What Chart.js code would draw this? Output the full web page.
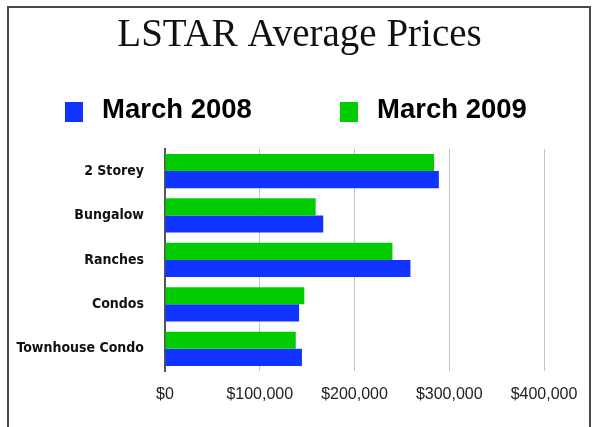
<!DOCTYPE html>
<html>
<head>
<meta charset="utf-8">
<script src="https://cdn.jsdelivr.net/npm/chart.js@4.4.0/dist/chart.umd.min.js"></script>
<style>
  html, body { margin: 0; padding: 0; background: #fff; overflow: hidden; }
  #wrap { position: relative; width: 599px; height: 427px; }
  #frame { position: absolute; left: 7px; top: 6px; width: 580px; height: 480px; border: 2px solid #4a4a4a; }
  #chart { position: absolute; left: 0; top: 0; }
</style>
</head>
<body>
<div id="wrap">
  <div id="frame"></div>
  <canvas id="chart" width="599" height="427"></canvas>
</div>
<script>
const categories = ["2 Storey", "Bungalow", "Ranches", "Condos", "Townhouse Condo"];
const march2008 = [289000, 167000, 259000, 141500, 144500];
const march2009 = [284000, 159000, 240000, 147000, 138000];
const xTicks = [0, 100000, 200000, 300000, 400000];
// axis runs past the last tick so the plot reaches the right edge
const xMax = 458000;

// legend drawn by hand so the two items sit wide apart like the original
const boxLegend = {
  id: "boxLegend",
  afterDraw(chart) {
    const ctx = chart.ctx;
    const items = [chart.data.datasets[1], chart.data.datasets[0]];
    const startX = [65, 340];
    ctx.save();
    ctx.font = "bold 27.5px 'Liberation Sans', Arial, sans-serif";
    ctx.textBaseline = "middle";
    ctx.textAlign = "left";
    items.forEach((ds, i) => {
      ctx.fillStyle = ds.backgroundColor;
      ctx.fillRect(startX[i], 102, 18, 20);
      ctx.fillStyle = "#000";
      ctx.fillText(ds.label, startX[i] + 37, 110);
    });
    ctx.restore();
  },
};

const el = document.getElementById("chart");

new Chart(el, {
  type: "bar",
  data: {
    labels: categories,
    datasets: [
      {
        label: "March 2009",
        data: march2009,
        backgroundColor: "#00cc00",
        borderWidth: 0,
        categoryPercentage: 0.77,
        barPercentage: 1.0,
      },
      {
        label: "March 2008",
        data: march2008,
        backgroundColor: "#1033ff",
        borderWidth: 0,
        categoryPercentage: 0.77,
        barPercentage: 1.0,
      },
    ],
  },
  options: {
    indexAxis: "y",
    responsive: false,
    animation: false,
    layout: {
      padding: { left: 0, right: 0, top: 0, bottom: 23 },
    },
    scales: {
      x: {
        min: 0,
        max: xMax,
        afterBuildTicks: (axis) => {
          axis.ticks = xTicks.map((v) => ({ value: v }));
        },
        afterFit: (axis) => {
          axis.height = 33;
        },
        grid: {
          color: "#c4c4c4",
          lineWidth: 1,
          drawTicks: false,
        },
        border: { display: false },
        ticks: {
          padding: 14,
          maxRotation: 0,
          color: "#222",
          font: { size: 16, family: "'Liberation Sans', Arial, sans-serif" },
          callback: (v) => "$" + Number(v).toLocaleString("en-US"),
        },
      },
      y: {
        afterFit: (axis) => {
          axis.width = 165;
        },
        grid: { display: false, drawTicks: false },
        border: { display: true, color: "#555", width: 2 },
        ticks: {
          padding: 21,
          color: "#111",
          font: {
            size: 14,
            weight: "bold",
            family: "'Liberation Sans Narrow', 'DejaVu Sans Condensed', sans-serif",
          },
        },
      },
    },
    plugins: {
      legend: { display: false },
      tooltip: { enabled: false },
      title: {
        display: true,
        text: "LSTAR Average Prices",
        color: "#111",
        padding: { top: 12, bottom: 90 },
        font: {
          size: 39,
          weight: "normal",
          family: "'Liberation Serif', 'DejaVu Serif', serif",
        },
      },
    },
  },
  plugins: [boxLegend],
});
</script>
</body>
</html>
